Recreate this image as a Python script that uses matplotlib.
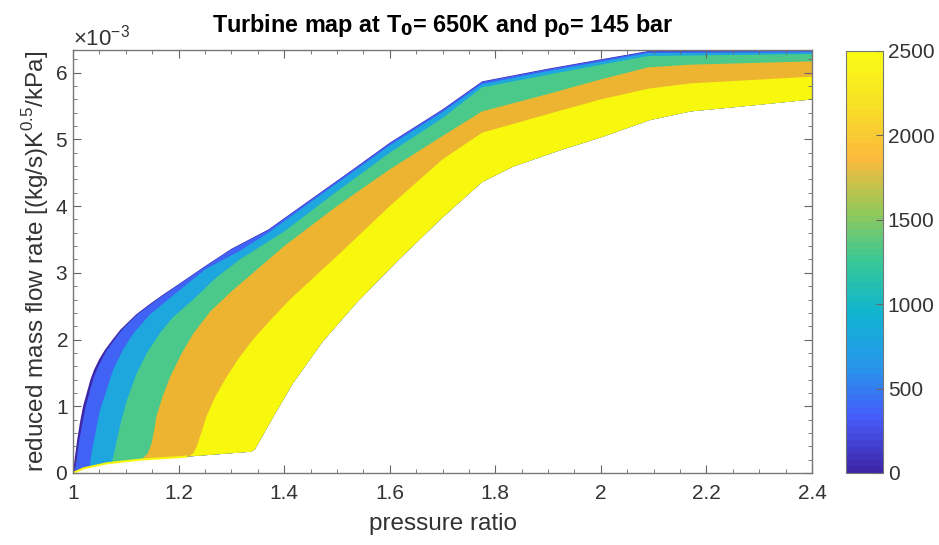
import numpy as np
import matplotlib
matplotlib.use("Agg")
import matplotlib.pyplot as plt
from matplotlib.colors import LinearSegmentedColormap, Normalize
from matplotlib.cm import ScalarMappable

plt.rcParams['font.family'] = ['Liberation Sans', 'DejaVu Sans']
plt.rcParams['mathtext.fontset'] = 'custom'
plt.rcParams['mathtext.rm'] = 'Liberation Sans'

# speed-band boundaries, pressure ratio vs reduced mass flow (x1e-3)
top_x = [1.0, 1.003, 1.008, 1.013, 1.019, 1.026, 1.033, 1.04, 1.05, 1.06, 1.075, 1.09, 1.12,
         1.145, 1.17, 1.2, 1.25, 1.3, 1.37, 1.45, 1.53, 1.6, 1.7, 1.775, 1.9, 2.0, 2.09, 2.4]
top_y = [0.0, 0.2, 0.5, 0.75, 1.0, 1.2, 1.4, 1.55, 1.71, 1.84, 2.0, 2.15, 2.38,
         2.53, 2.67, 2.83, 3.1, 3.36, 3.65, 4.1, 4.55, 4.95, 5.45, 5.87, 6.06, 6.2, 6.325, 6.335]

b1_x = [1.003, 1.007, 1.012, 1.018, 1.024, 1.031, 1.038, 1.045, 1.055, 1.064, 1.078, 1.092, 1.121,
        1.146, 1.171, 1.2, 1.25, 1.3, 1.37, 1.45, 1.53, 1.6, 1.7, 1.775, 1.9, 2.0, 2.09, 2.4]
b1_y = [0.01, 0.2, 0.5, 0.75, 1.0, 1.2, 1.4, 1.55, 1.71, 1.84, 1.99, 2.14, 2.37,
        2.522, 2.662, 2.822, 3.092, 3.352, 3.642, 4.092, 4.542, 4.942, 5.442, 5.862, 6.052, 6.192,
        6.317, 6.327]

b2_x = [1.032, 1.035, 1.04, 1.051, 1.062, 1.076, 1.095, 1.114, 1.145, 1.18, 1.25, 1.316, 1.37,
        1.45, 1.53, 1.6, 1.7, 1.775, 1.9, 2.0, 2.09, 2.4]
b2_y = [0.095, 0.3, 0.5, 0.94, 1.2, 1.55, 1.85, 2.09, 2.37, 2.6, 3.05, 3.33, 3.6,
        4.06, 4.51, 4.91, 5.41, 5.83, 6.025, 6.165, 6.295, 6.305]

b3_x = [1.073, 1.078, 1.083, 1.092, 1.102, 1.12, 1.14, 1.165, 1.19, 1.228, 1.27, 1.316, 1.4,
        1.5, 1.6, 1.7, 1.775, 1.9, 2.0, 2.09, 2.4]
b3_y = [0.145, 0.3, 0.49, 0.8, 1.09, 1.48, 1.8, 2.1, 2.34, 2.6, 2.92, 3.2, 3.62,
        4.22, 4.8, 5.32, 5.78, 5.97, 6.12, 6.25, 6.28]

b4_x = [1.13, 1.142, 1.149, 1.154, 1.158, 1.17, 1.184, 1.205, 1.228, 1.26, 1.3, 1.4, 1.5,
        1.6, 1.7, 1.775, 1.9, 2.0, 2.09, 2.17, 2.4]
b4_y = [0.2, 0.3, 0.45, 0.65, 0.85, 1.15, 1.44, 1.78, 2.09, 2.42, 2.72, 3.4, 4.0,
        4.55, 5.05, 5.42, 5.68, 5.9, 6.08, 6.12, 6.17]

b5_x = [1.22, 1.228, 1.234, 1.243, 1.253, 1.27, 1.291, 1.315, 1.341, 1.375, 1.411, 1.5, 1.6,
        1.7, 1.775, 1.9, 2.0, 2.09, 2.17, 2.4]
b5_y = [0.25, 0.3, 0.39, 0.6, 0.85, 1.15, 1.44, 1.73, 2.0, 2.3, 2.6, 3.25, 4.0,
        4.7, 5.1, 5.38, 5.6, 5.76, 5.84, 5.94]

low_x = [1.0, 1.02, 1.064, 1.127, 1.215, 1.338, 1.345, 1.355, 1.38, 1.417, 1.474, 1.537,
         1.58, 1.62, 1.7, 1.775, 1.833, 1.92, 2.0, 2.093, 2.17, 2.3, 2.4]
low_y = [0.0, 0.07, 0.145, 0.2, 0.245, 0.32, 0.36, 0.5, 0.85, 1.35, 1.98, 2.55,
         2.9, 3.22, 3.83, 4.36, 4.59, 4.83, 5.03, 5.29, 5.42, 5.52, 5.6]

band_colors = ['#3E26A8', '#4062F5', '#1EA6DF', '#4BC98A', '#EDB432', '#F8F80F']

parula = LinearSegmentedColormap.from_list('parula', [
    (0.2422, 0.1504, 0.6603), (0.2780, 0.3556, 0.9777), (0.1540, 0.5902, 0.9218),
    (0.0590, 0.7060, 0.8200), (0.2161, 0.7843, 0.5923), (0.5902, 0.7865, 0.3420),
    (0.9892, 0.7298, 0.2400), (0.9724, 0.8749, 0.1567), (0.9769, 0.9839, 0.0805)], N=64)

fig = plt.figure(figsize=(9.39, 5.45), dpi=100)
ax = fig.add_axes([73 / 939, 72 / 545, 739 / 939, 423 / 545])

lx = np.array(low_x)
ly = np.array(low_y) * 1e-3


def layer(bx, by, color):
    m = lx > bx[0]
    px = np.concatenate([bx, lx[m][::-1]])
    py = np.concatenate([np.array(by) * 1e-3, ly[m][::-1]])
    ax.fill(px, py, color=color, lw=0)


bounds = [(top_x, top_y), (b1_x, b1_y), (b2_x, b2_y), (b3_x, b3_y), (b4_x, b4_y), (b5_x, b5_y)]
for (bx, by), c in zip(bounds, band_colors):
    layer(bx, by, c)
ax.plot(low_x[:5], ly[:5], color=band_colors[-1], lw=1.5)

ax.set_xlim(1, 2.4)
ax.set_ylim(0, 6.34e-3)
ax.set_xticks(np.arange(1, 2.41, 0.2))
ax.set_xticklabels(['1', '1.2', '1.4', '1.6', '1.8', '2', '2.2', '2.4'])
ax.set_xticks(np.arange(1, 2.401, 0.05), minor=True)
ax.set_yticks(np.arange(0, 6.1e-3, 1e-3))
ax.set_yticks(np.arange(0, 6.34e-3, 0.2e-3), minor=True)
ax.ticklabel_format(axis='y', style='sci', scilimits=(-3, -3), useMathText=True)
ax.yaxis.get_offset_text().set_fontsize(16)
ax.yaxis.get_offset_text().set_color('#333333')

gc = '#333333'
ax.tick_params(which='both', direction='in', top=True, right=True, color='#666666',
               labelsize=15, labelcolor=gc)
ax.tick_params(which='major', length=6)
ax.tick_params(which='minor', length=3)
ax.tick_params(axis='x', pad=8)
for s in ax.spines.values():
    s.set_color('#777777')
    s.set_linewidth(1)

ax.set_xlabel('pressure ratio', fontsize=17.5, color=gc, labelpad=7)
ax.set_ylabel('reduced mass flow rate [(kg/s)K$^{0.5}$/kPa]', fontsize=17.5, color=gc, labelpad=3)
ax.set_title('Turbine map at T$_\\mathbf{0}$= 650K and p$_\\mathbf{0}$= 145 bar',
             fontsize=16.8, fontweight='bold', pad=13)

cax = fig.add_axes([846 / 939, 72 / 545, 37 / 939, 422 / 545])
sm = ScalarMappable(norm=Normalize(0, 2500), cmap=parula)
cb = fig.colorbar(sm, cax=cax, ticks=[0, 500, 1000, 1500, 2000, 2500])
cb.ax.tick_params(direction='in', length=5, labelsize=15, labelcolor=gc, color='#666666')
cb.outline.set_edgecolor('#777777')

fig.savefig('out.png', dpi=100)
